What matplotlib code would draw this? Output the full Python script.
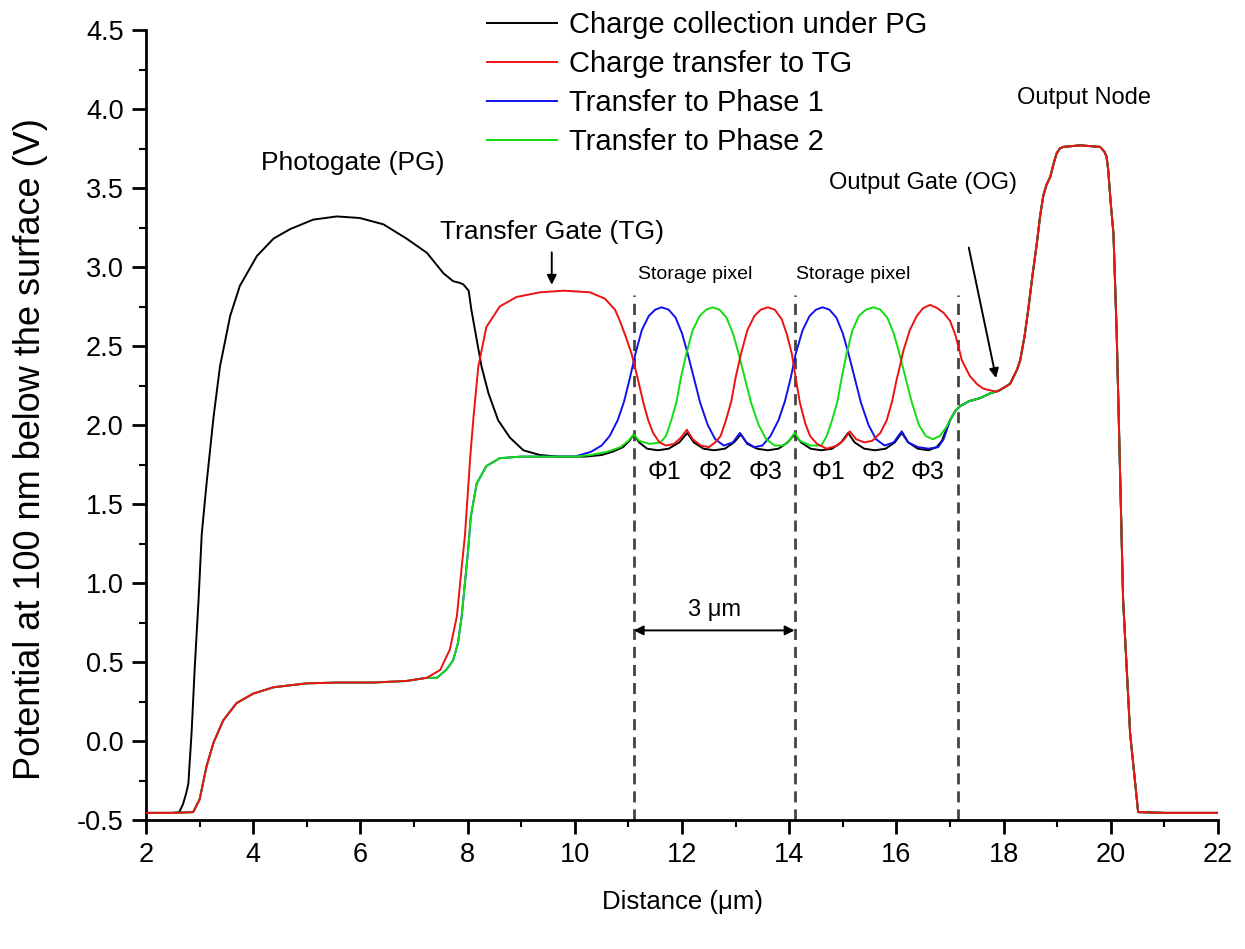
import matplotlib
matplotlib.use("Agg")
import matplotlib.pyplot as plt

plt.rcParams['font.family'] = ['Liberation Sans', 'DejaVu Sans']

# shared photogate-side start of the transfer curves (x in um, potential in V)
head_pts = [(2.0, -0.455), (2.5, -0.455), (2.88, -0.45), (3.0, -0.37), (3.13, -0.16),
            (3.26, -0.01), (3.44, 0.13), (3.69, 0.24), (4.0, 0.30), (4.38, 0.34),
            (5.0, 0.365), (5.6, 0.37), (6.24, 0.37), (6.86, 0.38), (7.24, 0.40)]

# output node, common to all curves
node_pts = [(18.12, 2.26), (18.25, 2.35), (18.31, 2.41), (18.39, 2.56), (18.46, 2.73),
            (18.54, 2.95), (18.62, 3.15), (18.68, 3.32), (18.74, 3.45), (18.8, 3.52),
            (18.87, 3.57), (18.93, 3.65), (18.99, 3.72), (19.05, 3.75), (19.11, 3.76),
            (19.43, 3.77), (19.8, 3.76), (19.88, 3.73), (19.92, 3.70), (19.95, 3.62),
            (20.0, 3.40), (20.05, 3.21), (20.11, 2.58), (20.17, 1.74), (20.23, 0.89),
            (20.36, 0.05), (20.51, -0.45), (21.0, -0.455), (22.0, -0.455)]

# charge collection under PG
pg_pts = [(2.0, -0.455), (2.5, -0.455), (2.62, -0.45), (2.69, -0.40), (2.75, -0.33),
          (2.79, -0.27), (2.85, 0.05), (2.91, 0.47), (2.98, 0.89), (3.04, 1.31),
          (3.13, 1.63), (3.26, 2.05), (3.38, 2.37), (3.57, 2.69), (3.75, 2.88),
          (4.07, 3.07), (4.38, 3.18), (4.69, 3.24), (5.12, 3.30), (5.56, 3.32),
          (5.99, 3.31), (6.43, 3.27), (6.86, 3.18), (7.24, 3.09), (7.55, 2.96),
          (7.73, 2.91), (7.85, 2.90), (7.92, 2.89), (8.02, 2.85), (8.07, 2.73),
          (8.17, 2.54), (8.26, 2.37), (8.39, 2.20), (8.57, 2.03), (8.79, 1.92),
          (9.04, 1.84), (9.35, 1.81), (9.7, 1.80), (10.2, 1.80), (10.5, 1.81),
          (10.7, 1.83), (10.9, 1.86), (11.02, 1.90), (11.1, 1.94), (11.2, 1.89),
          (11.35, 1.85), (11.55, 1.84), (11.75, 1.85), (11.95, 1.89), (12.1, 1.95),
          (12.22, 1.89), (12.4, 1.85), (12.6, 1.84), (12.8, 1.85), (12.97, 1.89),
          (13.1, 1.94), (13.22, 1.88), (13.4, 1.85), (13.6, 1.84), (13.8, 1.85),
          (13.97, 1.89), (14.1, 1.94), (14.22, 1.89), (14.4, 1.85), (14.6, 1.84),
          (14.8, 1.85), (14.97, 1.89), (15.1, 1.95), (15.22, 1.89), (15.4, 1.85),
          (15.6, 1.84), (15.8, 1.85), (15.97, 1.89), (16.1, 1.95), (16.22, 1.89),
          (16.4, 1.85), (16.6, 1.84), (16.75, 1.86), (16.85, 1.90), (16.95, 1.99),
          (17.0, 2.03), (17.1, 2.09), (17.19, 2.12), (17.35, 2.15), (17.56, 2.17),
          (17.75, 2.20), (17.93, 2.22)]

# charge transfer to TG
tg_pts = [(7.49, 0.45), (7.67, 0.58), (7.80, 0.79), (7.89, 1.10), (7.95, 1.30),
          (8.0, 1.55), (8.05, 1.80), (8.11, 2.05), (8.20, 2.37), (8.35, 2.62),
          (8.6, 2.75), (8.91, 2.81), (9.35, 2.84), (9.8, 2.85), (10.28, 2.84),
          (10.56, 2.80), (10.75, 2.73), (10.84, 2.66), (10.95, 2.56), (11.06, 2.45),
          (11.17, 2.30), (11.28, 2.14), (11.37, 2.03), (11.46, 1.95), (11.58, 1.89),
          (11.7, 1.87), (11.85, 1.88), (11.98, 1.92), (12.09, 1.97), (12.2, 1.91),
          (12.35, 1.87), (12.5, 1.86), (12.62, 1.89), (12.72, 1.93), (12.82, 2.03),
          (12.92, 2.15), (13.0, 2.30), (13.1, 2.45), (13.22, 2.60), (13.35, 2.69),
          (13.47, 2.73), (13.6, 2.745), (13.73, 2.73), (13.86, 2.67), (13.96, 2.57),
          (14.05, 2.45), (14.12, 2.30), (14.2, 2.14), (14.3, 2.01), (14.39, 1.93),
          (14.52, 1.88), (14.7, 1.85), (14.9, 1.87), (15.03, 1.91), (15.13, 1.96),
          (15.25, 1.91), (15.4, 1.89), (15.55, 1.90), (15.7, 1.95), (15.82, 2.03),
          (15.92, 2.15), (16.0, 2.28), (16.07, 2.38), (16.13, 2.47), (16.25, 2.60),
          (16.38, 2.69), (16.5, 2.74), (16.63, 2.76), (16.76, 2.74), (16.88, 2.71),
          (17.0, 2.66), (17.1, 2.57), (17.17, 2.48), (17.22, 2.41), (17.37, 2.31),
          (17.5, 2.26), (17.62, 2.23), (17.87, 2.21)]

# transfer to phase 2
ph2_pts = [(7.43, 0.40), (7.6, 0.45), (7.73, 0.51), (7.82, 0.62), (7.89, 0.79),
           (7.95, 1.0), (8.01, 1.21), (8.06, 1.42), (8.17, 1.63), (8.35, 1.74),
           (8.6, 1.79), (9.0, 1.80), (9.35, 1.80), (10.0, 1.80), (10.3, 1.81),
           (10.6, 1.83), (10.85, 1.86), (11.0, 1.90), (11.1, 1.94), (11.2, 1.90),
           (11.4, 1.88), (11.6, 1.89), (11.7, 1.93), (11.8, 2.03), (11.9, 2.15),
           (11.98, 2.30), (12.08, 2.45), (12.2, 2.60), (12.33, 2.69), (12.45, 2.73),
           (12.57, 2.745), (12.7, 2.73), (12.83, 2.68), (12.95, 2.58), (13.05, 2.46),
           (13.17, 2.30), (13.29, 2.14), (13.43, 2.00), (13.57, 1.91), (13.73, 1.87),
           (13.9, 1.87), (14.02, 1.91), (14.1, 1.95), (14.2, 1.90), (14.4, 1.87),
           (14.6, 1.87), (14.7, 1.93), (14.8, 2.03), (14.9, 2.15), (14.98, 2.30),
           (15.07, 2.45), (15.18, 2.60), (15.3, 2.69), (15.43, 2.73), (15.57, 2.745),
           (15.7, 2.73), (15.83, 2.68), (15.95, 2.58), (16.05, 2.46), (16.17, 2.30),
           (16.29, 2.14), (16.42, 2.00), (16.55, 1.93), (16.68, 1.91), (16.81, 1.93),
           (16.92, 1.98), (17.0, 2.03), (17.1, 2.09), (17.19, 2.12), (17.35, 2.15),
           (17.56, 2.17), (17.75, 2.20), (17.93, 2.22)]

# transfer to phase 1 (same as phase 2 before x = 10)
ph1_pts = [(10.3, 1.83), (10.5, 1.87), (10.65, 1.93), (10.8, 2.03), (10.92, 2.15),
           (11.03, 2.30), (11.13, 2.45), (11.25, 2.60), (11.38, 2.69), (11.5, 2.73),
           (11.62, 2.745), (11.75, 2.73), (11.88, 2.68), (12.0, 2.58), (12.1, 2.46),
           (12.22, 2.30), (12.34, 2.14), (12.48, 2.00), (12.62, 1.91), (12.78, 1.87),
           (12.95, 1.89), (13.08, 1.95), (13.2, 1.89), (13.35, 1.86), (13.5, 1.87),
           (13.65, 1.93), (13.8, 2.03), (13.92, 2.15), (14.03, 2.30), (14.12, 2.45),
           (14.25, 2.60), (14.38, 2.69), (14.5, 2.73), (14.62, 2.745), (14.75, 2.73),
           (14.88, 2.68), (15.0, 2.58), (15.1, 2.46), (15.22, 2.30), (15.34, 2.14),
           (15.48, 2.00), (15.62, 1.91), (15.78, 1.87), (15.95, 1.89), (16.1, 1.96),
           (16.22, 1.89), (16.4, 1.86), (16.6, 1.85), (16.78, 1.86), (16.88, 1.91),
           (16.95, 1.98), (17.0, 2.03), (17.1, 2.09), (17.19, 2.12), (17.35, 2.15),
           (17.56, 2.17), (17.75, 2.20), (17.93, 2.22)]

gate_edges = [11.1, 14.1, 17.15]
phase_labels = ['Φ1', 'Φ2', 'Φ3', 'Φ1', 'Φ2', 'Φ3']
phase_x = [11.68, 12.62, 13.55, 14.73, 15.66, 16.59]

labels = ['Charge collection under PG', 'Charge transfer to TG',
          'Transfer to Phase 1', 'Transfer to Phase 2']


def xy(pts):
    return [p[0] for p in pts], [p[1] for p in pts]


black = pg_pts + node_pts
red = head_pts + tg_pts + node_pts
green = head_pts + ph2_pts + node_pts
blue = head_pts + [p for p in ph2_pts if p[0] <= 10.0] + ph1_pts + node_pts

fig = plt.figure(figsize=(12.45, 9.49), dpi=100)
ax = fig.add_axes([146/1245, 1-820/949, (1218-146)/1245, 790/949])

l1, = ax.plot(*xy(black), color='black', lw=1.4, zorder=2.0)
l2, = ax.plot(*xy(red), color='#ee1111', lw=1.4, zorder=2.6)
l3, = ax.plot(*xy(blue), color='#1111ee', lw=1.4, zorder=2.2)
l4, = ax.plot(*xy(green), color='#11dd11', lw=1.4, zorder=2.4)

ax.vlines(gate_edges, -0.5, 2.82, colors='#444444', linestyles=(0, (4, 2.5)), lw=2, zorder=1)

ax.set_xlim(2, 22)
ax.set_ylim(-0.5, 4.5)
ax.set_xticks(range(2, 23, 2))
ax.set_xticks(range(3, 22, 2), minor=True)
ax.set_yticks([-0.5 + 0.5*i for i in range(11)])
ax.set_yticks([-0.25 + 0.5*i for i in range(10)], minor=True)
ax.yaxis.set_major_formatter(matplotlib.ticker.FormatStrFormatter('%.1f'))
for s in ['top', 'right']:
    ax.spines[s].set_visible(False)
for s in ['left', 'bottom']:
    ax.spines[s].set_linewidth(2)
ax.tick_params(which='major', length=10, width=2, labelsize=19.5, pad=6)
ax.tick_params(which='minor', length=5, width=1.5)

ax.set_xlabel('Distance (μm)', fontsize=18.5, labelpad=16)
ax.set_ylabel('Potential at 100 nm below the surface (V)', fontsize=26)
ax.yaxis.set_label_coords(-0.0914, 0.47)

fig.legend([l1, l2, l3, l4], labels, loc='upper left',
           bbox_to_anchor=(487/1245, 1-11/949), frameon=False, fontsize=21,
           handlelength=2.4, handletextpad=0.4, labelspacing=0.38, borderpad=0,
           borderaxespad=0)

ax.text(5.85, 3.66, 'Photogate (PG)', fontsize=19, ha='center', va='center')
ax.text(9.57, 3.22, 'Transfer Gate (TG)', fontsize=19, ha='center', va='center')
ax.text(12.25, 2.95, 'Storage pixel', fontsize=14, ha='center', va='center')
ax.text(15.2, 2.95, 'Storage pixel', fontsize=14, ha='center', va='center')
ax.text(16.5, 3.53, 'Output Gate (OG)', fontsize=17, ha='center', va='center')
ax.text(19.5, 4.07, 'Output Node', fontsize=17, ha='center', va='center')
for lab, px in zip(phase_labels, phase_x):
    ax.text(px, 1.70, lab, fontsize=18, ha='center', va='center')
ax.text(12.6, 0.83, '3 μm', fontsize=17, ha='center', va='center')

ax.annotate('', xy=(9.57, 2.87), xytext=(9.57, 3.11),
            arrowprops=dict(arrowstyle='-|>', color='black', lw=1.4, mutation_scale=14))
ax.annotate('', xy=(17.87, 2.28), xytext=(17.34, 3.14),
            arrowprops=dict(arrowstyle='-|>', color='black', lw=1.4, mutation_scale=14))
ax.annotate('', xy=(11.1, 0.70), xytext=(14.1, 0.70),
            arrowprops=dict(arrowstyle='<|-|>', color='black', lw=1.4, mutation_scale=14,
                            shrinkA=0, shrinkB=0))

fig.savefig('out.png', dpi=100)
